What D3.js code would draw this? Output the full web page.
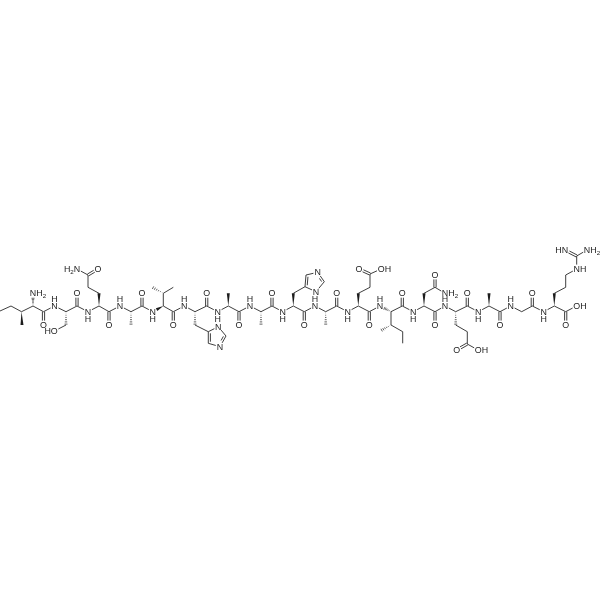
<!DOCTYPE html>
<html>
<head>
<meta charset="utf-8">
<script src="https://cdn.jsdelivr.net/npm/d3@7"></script>
<style>
html, body { margin: 0; padding: 0; background: #fff; }
svg { display: block; will-change: transform; }
text { font-family: "Liberation Sans", Arial, sans-serif; font-size: 8.9px; fill: #1c1c1c; }
</style>
</head>
<body>
<div id="chart"></div>
<script>
// Backbone positions, residue 1 to 17
var alphaCarbons = [[33,306],[66,311.7],[99,306],[131,311.7],[163.3,306],[195,311.7],[228.3,306],[261,311.7],[293.3,306],[325.7,311.7],[358.3,306],[391,311.7],[424,306],[455.7,311.7],[489,306],[521.7,311.7],[554.3,306]];
var carbonylCarbons = [[43.5,311.7],[77,306],[109,311.7],[142,306],[173.3,311.7],[206.7,306],[239,311.7],[272,306],[304.3,311.7],[336.7,306],[369.3,311.7],[402.3,306],[435,311.7],[467.3,306],[500,311.7],[532.3,306],[565.7,311.7]];
var carbonylOxygens = [[43.5,325],[77,293.3],[109,325],[142,293.3],[173.3,325],[206.7,293.3],[239,325],[272,293.3],[304.3,325],[336.7,293.3],[369.3,325],[402.3,293.3],[435,325],[467.3,293.3],[500,325],[532.3,293.3],[565.7,325]];
// amide nitrogens start at residue 2
var amideNitrogens = [[54.5,306],[88,311.7],[120,306],[152.7,311.7],[184.3,306],[217.7,311.7],[250,306],[282.7,311.7],[315,306],[347.7,311.7],[380,306],[413.3,311.7],[445,306],[478.3,311.7],[510.7,306],[543.7,311.7]];

// Side chain atoms: id, x, y
var sideAtoms = [
	["et1",0,311],["et2",11,306],["cb1",21.5,311.7],["me1",22,325],["nt1",33,293.3],
	["cb2",66,325],["og2",54.5,331],
	["cb3",99,293.3],["cg3",88,287.3],["cd3",88,275],["oe3",98,269],["ne3",77,269],
	["cb4",131,325],
	["cb5",163.3,293.3],["ma5",173.3,287.3],["mb5",152.3,287.3],
	["cb6",195,325],["cg6",208.3,331.7],["nd6",218.3,326.7],["ce6",226,336],["ne6",220,346.7],["cd6",208.3,343.3],
	["cb7",228.3,293.3],["cb8",261,325],
	["cb9",293.3,293.3],["cg9",305,286.7],["nd9",316,291.7],["ce9",324.3,281.7],["ne9",317.7,272.3],["cd9",306,275],
	["cb10",325.7,325],
	["cb11",358.3,293.3],["cg11",370,287.3],["cd11",370,274],["oe11",359,269],["oh11",381,269],
	["cb12",391,325],["me12",381,330.5],["cg12",402.7,331.7],["cd12",402.7,343.3],
	["cb13",424,293.3],["cg13",435,287.3],["od13",435,275],["nd13",445,293.3],
	["cb14",455.7,325],["cg14",467.3,331.7],["cd14",467.3,344],["oe14",456.7,350],["oh14",478,350],
	["cb15",489,293.3],
	["cb17",554.3,293.3],["cg17",565.7,287.3],["cd17",565.7,275],["ne17",576.7,269],["cz17",576.7,256],["n117",565,250],["n217",587,250],
	["oxt",576.5,306]
];

// Bonds in the side chains
var singleBonds = [
	["et1","et2"],["et2","cb1"],["cb1","ca1"],
	["cb2","og2"],
	["cb3","cg3"],["cg3","cd3"],["cd3","ne3"],
	["ca5","cb5"],["cb5","ma5"],
	["cb6","cg6"],["cg6","nd6"],["nd6","ce6"],["ne6","cd6"],
	["cb9","cg9"],["cg9","nd9"],["nd9","ce9"],["ne9","cd9"],
	["cb11","cg11"],["cg11","cd11"],["cd11","oh11"],
	["ca12","cb12"],["cb12","cg12"],["cg12","cd12"],
	["cb13","cg13"],["cg13","nd13"],
	["cb14","cg14"],["cg14","cd14"],["cd14","oh14"],
	["cb17","cg17"],["cg17","cd17"],["cd17","ne17"],["ne17","cz17"],["cz17","n217"],
	["c17","oxt"]
];
// side: 0 = both sides of the axis, otherwise towards the ring centre
var doubleBonds = [
	["cd3","oe3",0],["cd11","oe11",0],["cg13","od13",0],["cd14","oe14",0],["cz17","n117",0],
	["ce6","ne6",1],["cd6","cg6",1],["ce9","ne9",-1],["cd9","cg9",-1]
];
var wedgeBonds = [["cb1","me1"],["ca3","cb3"],["ca5","n5"],["ca7","cb7"],["ca9","cb9"],["ca11","cb11"],["ca13","cb13"],["ca15","cb15"],["ca17","cb17"]];
var hashBonds = [["ca1","nt1"],["ca2","cb2"],["ca4","cb4"],["cb5","mb5"],["ca6","cb6"],["ca8","cb8"],["ca10","cb10"],["ca12","n12"],["cb12","me12"],["ca14","cb14"]];

// Labels: atom, text, subscript, text after it, anchor
var atomLabels = [
	["nt1","NH","2","","start"],["og2","HO","","","end"],["oe3","O","","","middle"],["ne3","H","2","N","end"],
	["nd6","N","","","middle"],["ne6","N","","","middle"],["nd9","N","","","middle"],["ne9","N","","","middle"],
	["oe11","O","","","middle"],["oh11","OH","","","start"],["od13","O","","","middle"],["nd13","NH","2","","start"],
	["oe14","O","","","middle"],["oh14","OH","","","start"],["ne17","NH","","","start"],["n117","HN","","","end"],["n217","NH","2","","start"],
	["oxt","OH","","","start"]
];

var width = 600, height = 600;
var x = d3.scaleLinear().domain([0, 600]).range([0, width]);
var y = d3.scaleLinear().domain([0, 600]).range([0, height]);
var atoms = {};

function addAtoms(list, prefix, first) {
	list.forEach(function(p, i) {
		atoms[prefix + (i + first)] = {x: x(p[0]), y: y(p[1])};
	});
}
addAtoms(alphaCarbons, "ca", 1);
addAtoms(carbonylCarbons, "c", 1);
addAtoms(carbonylOxygens, "o", 1);
addAtoms(amideNitrogens, "n", 2);
sideAtoms.forEach(function(a) { atoms[a[0]] = {x: x(a[1]), y: y(a[2])}; });

// Backbone bonds follow from the residue order
var backbone = [], carbonyls = [];
alphaCarbons.forEach(function(p, i) {
	var r = i + 1;
	backbone.push(["ca" + r, "c" + r]);
	carbonyls.push(["c" + r, "o" + r, 0]);
	if (r > 1) {
		backbone.push(["c" + (r - 1), "n" + r]);
		if (r != 5 && r != 12) backbone.push(["n" + r, "ca" + r]);
	}
});

var labelled = {};
atomLabels.forEach(function(l) { labelled[l[0]] = true; });
carbonylOxygens.forEach(function(p, i) { labelled["o" + (i + 1)] = true; });
amideNitrogens.forEach(function(p, i) { labelled["n" + (i + 2)] = true; });

var gap = 4.4;

// End points of a bond, pulled back from any atom label
function ends(b) {
	var p = atoms[b[0]], q = atoms[b[1]];
	var dx = q.x - p.x, dy = q.y - p.y;
	var l = Math.sqrt(dx * dx + dy * dy);
	var ux = dx / l, uy = dy / l;
	var s = labelled[b[0]] ? gap : 0;
	var e = labelled[b[1]] ? gap : 0;
	return {x1: p.x + ux * s, y1: p.y + uy * s, x2: q.x - ux * e, y2: q.y - uy * e, ux: ux, uy: uy, l: l - s - e};
}

var svg = d3.select("#chart").append("svg").attr("width", width).attr("height", height);
var g = svg.append("g").attr("stroke", "#1c1c1c").attr("stroke-width", 0.85).attr("fill", "none");

g.selectAll("line.single")
	.data(backbone.concat(singleBonds))
	.enter()
	.append("line")
	.attr("class", "single")
	.each(function(b) {
		var e = ends(b);
		d3.select(this).attr("x1", e.x1).attr("y1", e.y1).attr("x2", e.x2).attr("y2", e.y2);
	});

// Double bonds
var doubleLines = [];
carbonyls.concat(doubleBonds).forEach(function(b) {
	var e = ends(b), nx = -e.uy, ny = e.ux;
	if (b[2] == 0) {
		[-1.1, 1.1].forEach(function(o) {
			doubleLines.push({x1: e.x1 + nx * o, y1: e.y1 + ny * o, x2: e.x2 + nx * o, y2: e.y2 + ny * o});
		});
	} else {
		doubleLines.push(e);
		var o = 2.1 * b[2];
		doubleLines.push({
			x1: e.x1 + nx * o + e.ux * 1.6, y1: e.y1 + ny * o + e.uy * 1.6,
			x2: e.x2 + nx * o - e.ux * 1.6, y2: e.y2 + ny * o - e.uy * 1.6
		});
	}
});
g.selectAll("line.double")
	.data(doubleLines)
	.enter()
	.append("line")
	.attr("class", "double")
	.attr("x1", function(d) { return d.x1; })
	.attr("y1", function(d) { return d.y1; })
	.attr("x2", function(d) { return d.x2; })
	.attr("y2", function(d) { return d.y2; });

// Solid wedges
svg.selectAll("path.wedge")
	.data(wedgeBonds)
	.enter()
	.append("path")
	.attr("class", "wedge")
	.attr("fill", "#1c1c1c")
	.attr("d", function(b) {
		var e = ends(b), nx = -e.uy * 1.5, ny = e.ux * 1.5;
		return d3.line()([[e.x1, e.y1], [e.x2 + nx, e.y2 + ny], [e.x2 - nx, e.y2 - ny]]) + "Z";
	});

// Hashed wedges
var hashLines = [];
hashBonds.forEach(function(b) {
	var e = ends(b), nx = -e.uy, ny = e.ux, n = 6;
	d3.range(n).forEach(function(i) {
		var t = (i + 0.6) / n, w = 1.6 * t, px = e.x1 + (e.x2 - e.x1) * t, py = e.y1 + (e.y2 - e.y1) * t;
		hashLines.push({x1: px + nx * w, y1: py + ny * w, x2: px - nx * w, y2: py - ny * w});
	});
});
g.selectAll("line.hash")
	.data(hashLines)
	.enter()
	.append("line")
	.attr("class", "hash")
	.attr("stroke-width", 0.7)
	.attr("x1", function(d) { return d.x1; })
	.attr("y1", function(d) { return d.y1; })
	.attr("x2", function(d) { return d.x2; })
	.attr("y2", function(d) { return d.y2; });

// Atom labels. The ring NH of each histidine shares its H with the amide next to it
var plain = [];
carbonylOxygens.forEach(function(p, i) { plain.push({id: "o" + (i + 1), t: "O", dy: 0}); });
amideNitrogens.forEach(function(p, i) {
	var id = "n" + (i + 2);
	plain.push({id: id, t: "N", dy: 0});
	plain.push({id: id, t: "H", dy: i % 2 == 0 ? -7.6 : 7.6});
});

svg.selectAll("text.atom")
	.data(plain)
	.enter()
	.append("text")
	.attr("class", "atom")
	.attr("text-anchor", "middle")
	.attr("x", function(d) { return atoms[d.id].x; })
	.attr("y", function(d) { return atoms[d.id].y + d.dy + 3.1; })
	.text(function(d) { return d.t; });

var groups = svg.selectAll("text.group")
	.data(atomLabels)
	.enter()
	.append("text")
	.attr("class", "group")
	.attr("text-anchor", function(l) { return l[4]; })
	.attr("x", function(l) {
		var a = atoms[l[0]].x;
		if (l[4] == "start") return a - 3.2;
		if (l[4] == "end") return a + 3.2;
		return a;
	})
	.attr("y", function(l) { return atoms[l[0]].y + 3.1; });
groups.append("tspan").text(function(l) { return l[1]; });
groups.filter(function(l) { return l[2]; })
	.append("tspan")
	.attr("dy", 1.8)
	.attr("font-size", "6.2px")
	.text(function(l) { return l[2]; });
groups.filter(function(l) { return l[3]; })
	.append("tspan")
	.attr("dy", -1.8)
	.text(function(l) { return l[3]; });
</script>
</body>
</html>
